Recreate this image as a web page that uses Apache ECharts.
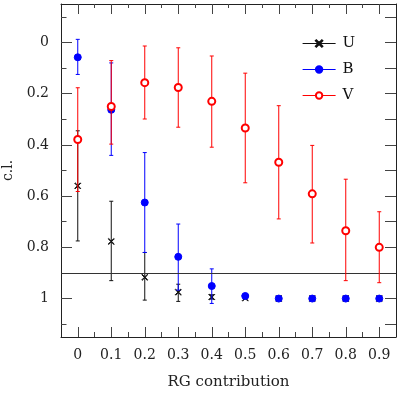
<!DOCTYPE html>
<html>
<head>
<meta charset="utf-8">
<script src="https://cdn.jsdelivr.net/npm/echarts@6/dist/echarts.min.js"></script>
<style>
  html, body { margin: 0; padding: 0; background: #fff; }
</style>
</head>
<body>
<div id="chart_cl" style="width:399px; height:399px"></div>
<script>
// RG contribution values
var xVals = [0, 0.1, 0.2, 0.3, 0.4, 0.5, 0.6, 0.7, 0.8, 0.9];

// U band
var uVal = [0.56, 0.777, 0.917, 0.975, 0.994, 0.998, 1, 1, 1, 1];
var uLo = [0.345, 0.62, 0.82, 0.944, 0.985, 0.995, 1, 1, 1, 1];
var uHi = [0.775, 0.93, 1.006, 1.011, 1.002, 1.0, 1, 1, 1, 1];

// B band
var bVal = [0.058, 0.263, 0.625, 0.837, 0.951, 0.99, 1, 1, 1, 1];
var bLo = [-0.012, 0.08, 0.43, 0.709, 0.884, 0.985, 1, 1, 1, 1];
var bHi = [0.125, 0.441, 0.82, 0.967, 1.019, 0.995, 1, 1, 1, 1];

// V band
var vVal = [0.379, 0.25, 0.157, 0.176, 0.23, 0.334, 0.468, 0.591, 0.735, 0.8];
var vLo = [0.177, 0.071, 0.014, 0.021, 0.053, 0.12, 0.247, 0.402, 0.534, 0.661];
var vHi = [0.582, 0.397, 0.299, 0.331, 0.409, 0.548, 0.689, 0.783, 0.93, 0.938];

// tick labels
var xTicks = [0, 0.1, 0.2, 0.3, 0.4, 0.5, 0.6, 0.7, 0.8, 0.9];
var xMinor = [0.05, 0.15, 0.25, 0.35, 0.45, 0.55, 0.65, 0.75, 0.85];
var yTicks = [0, 0.2, 0.4, 0.6, 0.8, 1];
var yMinor = [-0.1, 0.1, 0.3, 0.5, 0.7, 0.9, 1.1];
var yAll = [-0.1, 0, 0.1, 0.2, 0.3, 0.4, 0.5, 0.6, 0.7, 0.8, 0.9, 1, 1.1];
var clLevel = 0.9;

var font = "DejaVu Serif";
var axisColor = "#222";

function pts(vals) {
  return xVals.map(function(x, i) { return [x, vals[i]]; });
}
function bars(lo, hi) {
  return xVals.map(function(x, i) { return [x, lo[i], hi[i]]; });
}

function errorBars(name, lo, hi, color, z) {
  return {
    name: name + "_err",
    type: "custom",
    z: z,
    encode: { x: 0, y: [1, 2] },
    renderItem: function(params, api) {
      var p1 = api.coord([api.value(0), api.value(1)]);
      var p2 = api.coord([api.value(0), api.value(2)]);
      var w = 2;
      var st = { stroke: color, lineWidth: 1 };
      return {
        type: "group",
        children: [
          { type: "line", shape: { x1: p1[0], y1: p1[1], x2: p2[0], y2: p2[1] }, style: st },
          { type: "line", shape: { x1: p1[0] - w, y1: p1[1], x2: p1[0] + w, y2: p1[1] }, style: st },
          { type: "line", shape: { x1: p2[0] - w, y1: p2[1], x2: p2[0] + w, y2: p2[1] }, style: st }
        ]
      };
    },
    data: bars(lo, hi)
  };
}

function points(name, vals, color, symbol, size, z) {
  return {
    name: name,
    type: "line",
    z: z,
    data: pts(vals),
    symbol: symbol,
    symbolSize: size,
    showSymbol: true,
    lineStyle: { color: color, opacity: 0 },
    itemStyle: { color: color, borderColor: color, borderWidth: 1 }
  };
}

// thin "x" marker
var crossPath = "path://M0,0.7L0.7,0L5,4.3L9.3,0L10,0.7L5.7,5L10,9.3L9.3,10L5,5.7L0.7,10L0,9.3L4.3,5Z";

function fmt(v) { return String(+v.toFixed(1)); }

function xAxisOf(pos, ticks, len, lineShow, extra) {
  var a = {
    type: "value", min: -0.05, max: 0.95, position: pos,
    axisLine: { show: lineShow, onZero: false, lineStyle: { color: axisColor, width: 1 } },
    axisTick: { show: true, inside: true, length: len, customValues: ticks, lineStyle: { color: "#444" } },
    axisLabel: { show: false },
    splitLine: { show: false }
  };
  return Object.assign(a, extra || {});
}
function yAxisOf(pos, ticks, len, lineShow, extra) {
  var a = {
    type: "value", min: -0.15, max: 1.15, inverse: true, position: pos,
    axisLine: { show: lineShow, onZero: false, lineStyle: { color: axisColor, width: 1 } },
    axisTick: { show: true, inside: true, length: len, customValues: ticks, lineStyle: { color: "#444" } },
    axisLabel: { show: false },
    splitLine: { show: false }
  };
  return Object.assign(a, extra || {});
}

var myChart = echarts.init(document.getElementById("chart_cl"));
myChart.setOption({
  animation: false,
  backgroundColor: "#fff",
  grid: { left: 61, right: 3, top: 4, bottom: 62, containLabel: false, outerBoundsMode: "none" },
  legend: {
    orient: "vertical",
    left: 297,
    top: 31,
    itemWidth: 33,
    itemHeight: 8,
    itemGap: 11,
    data: ["U", "B", "V"],
    textStyle: { fontFamily: font, fontSize: 15, lineHeight: 10, color: "#111", padding: [0, 0, 0, 2] },
    lineStyle: { opacity: 1, width: 1.2 }
  },
  xAxis: [
    xAxisOf("bottom", xTicks, 10, true, {
      name: "RG contribution", nameLocation: "middle", nameGap: 38,
      nameTextStyle: { fontFamily: font, fontSize: 15, color: "#222" },
      axisLabel: { customValues: xTicks, formatter: fmt, margin: 11, fontFamily: font, fontSize: 14, color: "#222" }
    }),
    xAxisOf("bottom", xMinor, 5, false),
    xAxisOf("top", xTicks, 10, true),
    xAxisOf("top", xMinor, 4, false)
  ],
  yAxis: [
    yAxisOf("left", yTicks, 11, true, {
      name: "c.l.", nameLocation: "middle", nameGap: 43,
      nameTextStyle: { fontFamily: font, fontSize: 14, color: "#222" },
      axisLabel: { customValues: yTicks, formatter: fmt, margin: 12, fontFamily: font, fontSize: 14, color: "#222" }
    }),
    yAxisOf("left", yMinor, 5.5, false),
    yAxisOf("right", yAll, 11, true)
  ],
  series: [
    errorBars("U", uLo, uHi, "#111", 2),
    (function() {
      var s = points("U", uVal, "#111", crossPath, 6, 3);
      s.markLine = {
        silent: true,
        symbol: "none",
        label: { show: false },
        lineStyle: { color: "#333", width: 1, type: "solid" },
        data: [{ yAxis: clLevel }]
      };
      return s;
    })(),
    errorBars("B", bLo, bHi, "#0000ff", 4),
    points("B", bVal, "#0000ff", "circle", 7, 5),
    errorBars("V", vLo, vHi, "#ff0000", 6),
    points("V", vVal, "#ff0000", "emptyCircle", 7, 7)
  ]
});
</script>
</body>
</html>
